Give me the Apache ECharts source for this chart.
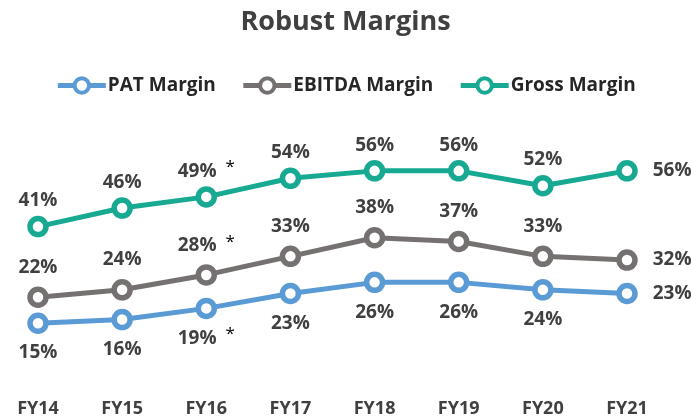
<!DOCTYPE html>
<html>
<head>
<meta charset="utf-8">
<script src="https://cdn.jsdelivr.net/npm/echarts@6/dist/echarts.min.js"></script>
<style>
    html, body { margin: 0; padding: 0; background: #fff; }
    #chart { width: 691px; height: 420px; }
</style>
</head>
<body>
<div id="chart"></div>
<script>
// 年份
var years = ['FY14', 'FY15', 'FY16', 'FY17', 'FY18', 'FY19', 'FY20', 'FY21'];
// 各项利润率 (%)
var patMargin = [15, 16, 19, 23, 26, 26, 24, 23];
var ebitdaMargin = [22, 24, 28, 33, 38, 37, 33, 32];
var grossMargin = [41, 46, 49, 54, 56, 56, 52, 56];
// 带星号的年份
var starYear = 'FY16';

var textColor = '#404040';
var fontName = '"Open Sans", sans-serif';

function buildSeries(name, values, color, pos, dist) {
    var last = values.length - 1;
    return {
        name: name,
        type: 'line',
        data: values.map(function (v, i) {
            if (i === last) {
                return { value: v, label: { position: 'right', distance: 15 } };
            }
            return v;
        }),
        symbol: 'circle',
        symbolSize: 16,
        lineStyle: { color: color, width: 5 },
        itemStyle: { color: '#fff', borderColor: color, borderWidth: 5.5 },
        label: {
            show: true,
            position: pos,
            distance: dist,
            formatter: function (p) {
                var txt = '{v|' + p.value + '%}';
                if (years[p.dataIndex] === starYear) txt += '{s|*}';
                return txt;
            },
            rich: {
                v: { fontFamily: fontName, fontWeight: 'bold', fontSize: 19, color: textColor, lineHeight: 24, verticalAlign: 'middle' },
                s: { fontFamily: fontName, fontSize: 17, color: '#000', lineHeight: 24, verticalAlign: 'top', padding: [0, 0, 8, 9] }
            }
        },
        emphasis: { disabled: true },
        z: 3
    };
}

var option = {
    backgroundColor: '#fff',
    animation: false,
    title: {
        text: 'Robust Margins',
        left: 'center',
        top: 4,
        textStyle: { fontFamily: fontName, fontWeight: 'bold', fontSize: 27, color: textColor }
    },
    legend: {
        top: 71,
        left: 'center',
        itemWidth: 48,
        itemHeight: 18,
        itemGap: 25,
        data: ['PAT Margin', 'EBITDA Margin', 'Gross Margin'],
        lineStyle: { width: 5 },
        itemStyle: { borderWidth: 4 },
        textStyle: { fontFamily: fontName, fontWeight: 'bold', fontSize: 19, color: '#262626', padding: [0, 0, 0, -3] }
    },
    grid: { left: 38, right: 64, top: 156, bottom: 41 },
    xAxis: {
        type: 'category',
        data: years,
        boundaryGap: false,
        axisLine: { show: false },
        axisTick: { show: false },
        axisLabel: { margin: 21, fontFamily: fontName, fontWeight: 'bold', fontSize: 18, color: textColor }
    },
    yAxis: {
        type: 'value',
        min: 0,
        max: 60,
        show: false,
        splitLine: { show: false }
    },
    series: [
        buildSeries('PAT Margin', patMargin, '#5B9BD5', 'bottom', 7),
        buildSeries('EBITDA Margin', ebitdaMargin, '#767171', 'top', 7),
        buildSeries('Gross Margin', grossMargin, '#17A992', 'top', 3)
    ]
};

var myChart = echarts.init(document.getElementById('chart'));
myChart.setOption(option);
</script>
</body>
</html>
